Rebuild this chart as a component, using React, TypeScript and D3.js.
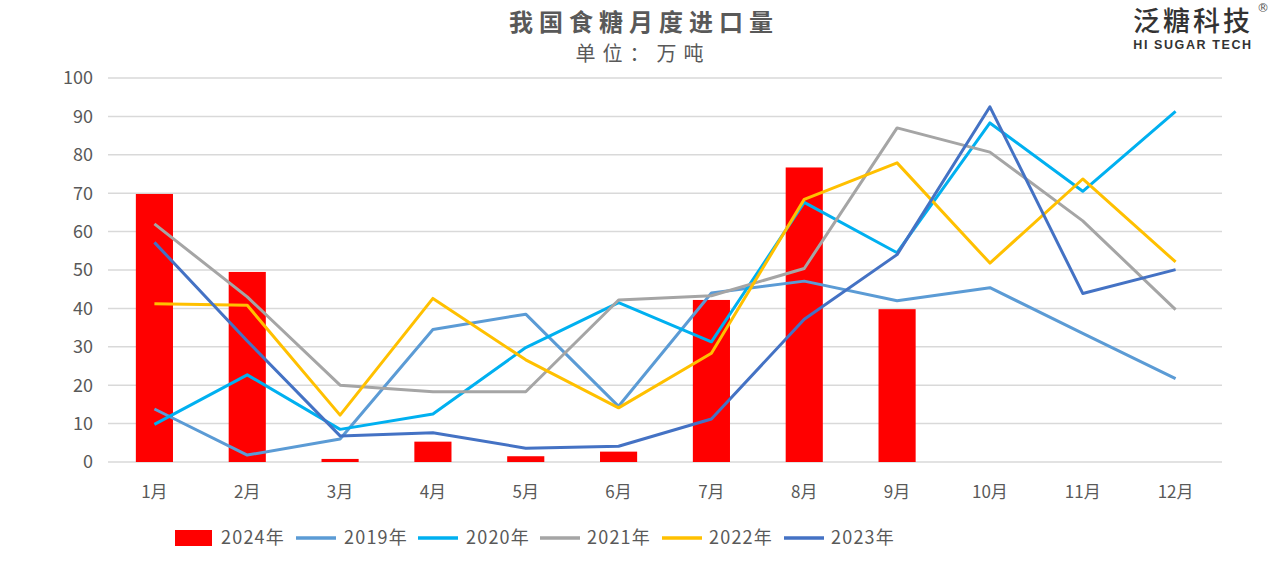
import React from "react";
import * as d3 from "d3";

const months = ["1月", "2月", "3月", "4月", "5月", "6月", "7月", "8月", "9月", "10月", "11月", "12月"];
const yTicks = [0, 10, 20, 30, 40, 50, 60, 70, 80, 90, 100];

const bar2024 = [69.8, 49.5, 0.8, 5.3, 1.5, 2.7, 42.2, 76.7, 39.8];
const line2019 = [13.8, 1.8, 6.0, 34.5, 38.5, 14.5, 44.0, 47.1, 42.0, 45.4, 33.5, 21.7];
const line2020 = [9.8, 22.7, 8.5, 12.5, 29.8, 41.5, 31.3, 67.6, 54.5, 88.3, 70.5, 91.3];
const line2021 = [62.0, 43.0, 20.0, 18.3, 18.3, 42.2, 43.3, 50.4, 87.0, 80.7, 62.8, 39.7];
const line2022 = [41.2, 40.8, 12.2, 42.6, 26.6, 14.1, 28.3, 68.4, 77.9, 51.8, 73.7, 52.1];
const line2023 = [57.2, 31.5, 6.8, 7.6, 3.6, 4.1, 11.2, 37.2, 54.0, 92.5, 43.9, 50.1];

const lineSeries = [
  { name: "2019年", values: line2019, color: "#5B9BD5" },
  { name: "2020年", values: line2020, color: "#00B0F0" },
  { name: "2021年", values: line2021, color: "#A5A5A5" },
  { name: "2022年", values: line2022, color: "#FFC000" },
  { name: "2023年", values: line2023, color: "#4472C4" },
];

const W = 1280;
const H = 567;
const left = 108;
const right = 1222;
const top = 78;
const bottom = 462;

export default function App() {
  const x = d3.scaleBand<string>().domain(months).range([left, right]).paddingInner(0.6).paddingOuter(0.3);
  const y = d3.scaleLinear().domain([0, 100]).range([bottom, top]);
  const cx = (m: string) => (x(m) as number) + x.bandwidth() / 2;
  const lineGen = d3
    .line<number>()
    .x((_, i) => cx(months[i]))
    .y((v) => y(v));

  const font = "'Noto Sans CJK SC', 'Noto Sans', sans-serif";
  const textColor = "#595959";

  const legendItems = [
    { name: "2024年", color: "#FF0000", type: "bar", x: 175, tx: 221 },
    { name: "2019年", color: "#5B9BD5", type: "line", x: 296, tx: 344 },
    { name: "2020年", color: "#00B0F0", type: "line", x: 418, tx: 466 },
    { name: "2021年", color: "#A5A5A5", type: "line", x: 540, tx: 587 },
    { name: "2022年", color: "#FFC000", type: "line", x: 662, tx: 709 },
    { name: "2023年", color: "#4472C4", type: "line", x: 784, tx: 831 },
  ];
  const ly = 538;

  return (
    <svg width={W} height={H} style={{ position: "absolute", left: 0, top: 0, background: "#fff" }} fontFamily={font}>
      <rect x={0} y={0} width={W} height={H} fill="#fff" />
      {/* title */}
      <text x={644} y={31} textAnchor="middle" fontSize={24} fontWeight={700} fill={textColor} letterSpacing={6}>
        我国食糖月度进口量
      </text>
      <text x={643} y={61} textAnchor="middle" fontSize={20} fill={textColor} letterSpacing={7}>
        单位：万吨
      </text>
      {/* logo */}
      <text x={1193} y={31} textAnchor="middle" fontSize={27} fontWeight={500} fill="#333" letterSpacing={3}>
        泛糖科技
      </text>
      <text x={1193} y={49} textAnchor="middle" fontSize={12.5} fontWeight={700} fill="#333" fontFamily="'Liberation Sans', Arial, sans-serif" letterSpacing={1.6}>
        HI SUGAR TECH
      </text>
      <text x={1263} y={12} textAnchor="middle" fontSize={12} fill="#555" fontFamily="'DejaVu Sans', sans-serif">
        ®
      </text>
      {/* grid */}
      {yTicks.map((t) => (
        <g key={t}>
          <line x1={left} x2={right} y1={y(t)} y2={y(t)} stroke="#D9D9D9" strokeWidth={1.5} />
          <text x={93} y={y(t)} dy="0.35em" textAnchor="end" fontSize={18} fill={textColor}>
            {t}
          </text>
        </g>
      ))}
      {/* x labels */}
      {months.map((m) => (
        <text key={m} x={cx(m)} y={498} textAnchor="middle" fontSize={17} fill={textColor}>
          {m}
        </text>
      ))}
      {/* bars */}
      {bar2024.map((v, i) => (
        <rect key={i} x={x(months[i]) as number} y={y(v)} width={x.bandwidth()} height={y(0) - y(v)} fill="#FF0000" />
      ))}
      {/* lines */}
      {lineSeries.map((s) => (
        <path key={s.name} d={lineGen(s.values) || ""} fill="none" stroke={s.color} strokeWidth={3} strokeLinejoin="round" />
      ))}
      {/* legend */}
      {legendItems.map((it) => (
        <g key={it.name}>
          {it.type === "bar" ? (
            <rect x={it.x} y={ly - 8} width={37} height={16} fill={it.color} />
          ) : (
            <line x1={it.x} x2={it.x + 40} y1={ly} y2={ly} stroke={it.color} strokeWidth={3.5} />
          )}
          <text x={it.tx} y={ly} dy="0.36em" fontSize={18} fill={textColor} letterSpacing={1.2}>
            {it.name}
          </text>
        </g>
      ))}
    </svg>
  );
}
